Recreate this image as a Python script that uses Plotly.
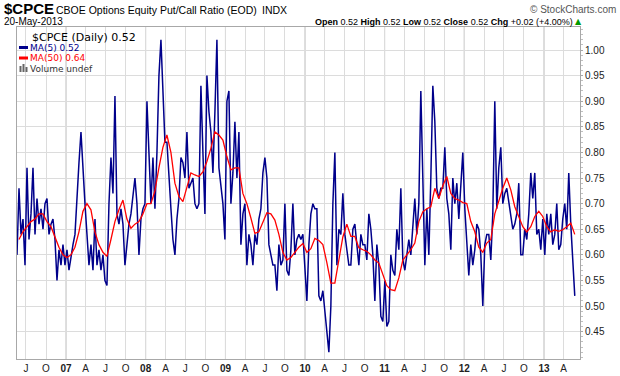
import pandas as pd
import plotly.graph_objects as go

# ---------------- data ----------------
MA5_START, MA5_END = "2006-05-21", "2013-05-22"
MA50_START, MA50_END = "2006-05-30", "2013-05-22"

ma5_values = [
    0.60, 0.73, 0.64, 0.67, 0.58, 0.77, 0.63, 0.68, 0.77, 0.64, 0.71, 0.66, 0.69, 0.65, 0.70, 0.71, 0.64, 0.66, 0.67,
    0.63, 0.55, 0.61, 0.58, 0.62, 0.58, 0.61, 0.57, 0.60, 0.62, 0.64, 0.72, 0.78, 0.84, 0.76, 0.70, 0.64, 0.58,
    0.62, 0.57, 0.67, 0.58, 0.61, 0.57, 0.60, 0.55, 0.54, 0.70, 0.79, 0.72, 0.91, 0.68, 0.66, 0.69, 0.66, 0.58, 0.62,
    0.66, 0.68, 0.71, 0.75, 0.70, 0.60, 0.67, 0.69, 0.70, 0.90, 0.80, 0.70, 0.79, 0.69, 0.80, 0.95, 1.02, 0.90,
    0.82, 0.82, 0.74, 0.69, 0.63, 0.60, 0.67, 0.71, 0.79, 0.78, 0.75, 0.84, 0.73, 0.74, 0.75, 0.70, 0.69, 0.70, 0.93,
    0.80, 0.68, 0.95, 0.88, 0.84, 0.76, 0.88, 1.02, 0.77, 0.73, 0.70, 0.63, 0.90, 0.92, 0.70, 0.76, 0.86, 0.75, 0.84,
    0.62, 0.68, 0.70, 0.58, 0.64, 0.62, 0.58, 0.64, 0.62, 0.67, 0.69, 0.76, 0.79, 0.75, 0.62, 0.60, 0.58, 0.58, 0.53,
    0.62, 0.58, 0.59, 0.70, 0.57, 0.56, 0.61, 0.70, 0.60, 0.63, 0.64, 0.63, 0.64, 0.58, 0.51, 0.62, 0.68, 0.70,
    0.69, 0.69, 0.52, 0.51, 0.53, 0.49, 0.45, 0.41, 0.50, 0.70, 0.80, 0.58, 0.65, 0.64, 0.72, 0.64, 0.61, 0.58, 0.58,
    0.65, 0.66, 0.62, 0.58, 0.64, 0.62, 0.62, 0.59, 0.68, 0.65, 0.60, 0.51, 0.62, 0.58, 0.48, 0.47, 0.55, 0.46, 0.47,
    0.60, 0.57, 0.56, 0.65, 0.61, 0.73, 0.59, 0.57, 0.60, 0.63, 0.60, 0.66, 0.71, 0.64, 0.70, 0.92, 0.77, 0.58, 0.69,
    0.60, 0.75, 0.93, 0.86, 0.73, 0.71, 0.73, 0.73, 0.81, 0.71, 0.68, 0.61, 0.75, 0.70, 0.74, 0.67, 0.74, 0.80,
    0.69, 0.63, 0.56, 0.62, 0.58, 0.61, 0.66, 0.65, 0.60, 0.50, 0.62, 0.64, 0.64, 0.59, 0.68, 0.90, 0.69, 0.77, 0.81,
    0.70, 0.72, 0.73, 0.70, 0.67, 0.65, 0.66, 0.68, 0.74, 0.60, 0.60, 0.65, 0.63, 0.68,
    0.76, 0.71, 0.76, 0.64, 0.65, 0.61, 0.67, 0.60, 0.68, 0.64, 0.68, 0.62, 0.64, 0.70, 0.61, 0.62, 0.67, 0.70, 0.65,
    0.76, 0.66, 0.60, 0.52,
]

ma50_values = [
    0.630, 0.645, 0.655, 0.665, 0.670, 0.680, 0.680, 0.665, 0.655, 0.635, 0.615, 0.600, 0.595, 0.600, 0.615, 0.645,
    0.685, 0.700,
    0.688, 0.645, 0.620, 0.605, 0.597, 0.630, 0.665, 0.688, 0.707, 0.670, 0.652, 0.660, 0.665, 0.680, 0.700, 0.700,
    0.725, 0.770, 0.810,
    0.834, 0.800, 0.740, 0.714, 0.704, 0.733, 0.760, 0.756, 0.753, 0.762, 0.782, 0.808, 0.840, 0.834, 0.824, 0.792,
    0.766, 0.770, 0.770,
    0.720, 0.700, 0.672, 0.642, 0.645, 0.665, 0.682, 0.680, 0.668, 0.640, 0.605, 0.590, 0.595, 0.605, 0.615, 0.622,
    0.605, 0.612,
    0.632, 0.628, 0.620, 0.585, 0.545, 0.545, 0.590, 0.635, 0.660, 0.636, 0.636, 0.614, 0.610, 0.607, 0.600, 0.590,
    0.584, 0.560, 0.540,
    0.532, 0.530, 0.555, 0.590, 0.600, 0.610, 0.623, 0.665, 0.684, 0.690, 0.694, 0.730, 0.710, 0.735, 0.753, 0.720,
    0.710, 0.707, 0.702,
    0.700, 0.665, 0.645, 0.615, 0.605, 0.623, 0.630, 0.680, 0.706, 0.730, 0.750, 0.727, 0.694, 0.675, 0.655, 0.645,
    0.655, 0.675, 0.685, 0.675, 0.655, 0.645, 0.649, 0.646, 0.649, 0.655, 0.662, 0.640,
]

x_tick_labels = ["J", "O", "<b>07</b>", "A", "J", "O", "<b>08</b>", "A", "J", "O", "<b>09</b>", "A", "J", "O",
                 "<b>10</b>", "A", "J", "O", "<b>11</b>", "A", "J", "O", "<b>12</b>", "A", "J", "O", "<b>13</b>", "A"]
y_tick_values = [0.45, 0.50, 0.55, 0.60, 0.65, 0.70, 0.75, 0.80, 0.85, 0.90, 0.95, 1.00]
y_tick_labels = ["0.45", "0.50", "0.55", "0.60", "0.65", "0.70", "0.75", "0.80", "0.85", "0.90", "0.95", "1.00"]
year_starts = ["2007-01-01", "2008-01-01", "2009-01-01", "2010-01-01", "2011-01-01", "2012-01-01", "2013-01-01"]

ma5_dates = pd.date_range(MA5_START, MA5_END, periods=len(ma5_values))
ma50_dates = pd.date_range(MA50_START, MA50_END, periods=len(ma50_values))
quarter_ticks = pd.date_range("2006-07-01", "2013-04-01", freq="QS-JAN")

# ---------------- layout geometry ----------------
W, H = 620, 376
L, R, T, B = 17, 580, 27, 359
BLUE, RED = "#00008B", "#FF0000"
SANS = "Liberation Sans, Arial, sans-serif"
VERD = "DejaVu Sans, Verdana, sans-serif"


def px(x):
    return (x - L) / (R - L)


def py(y):
    return (B - y) / (B - T)


fig = go.Figure()
fig.add_trace(go.Scatter(x=ma5_dates, y=ma5_values, mode="lines", name="MA(5)",
                         line=dict(color=BLUE, width=1.5), showlegend=False, hoverinfo="skip"))
fig.add_trace(go.Scatter(x=ma50_dates, y=ma50_values, mode="lines", name="MA(50)",
                         line=dict(color=RED, width=1.3), showlegend=False, hoverinfo="skip"))

for d in year_starts:
    fig.add_shape(type="line", xref="x", yref="paper", x0=d, x1=d, y0=0, y1=1,
                  line=dict(color="#b8b8b8", width=1), layer="between")

# legend swatches
fig.add_shape(type="line", xref="paper", yref="paper", x0=px(19), x1=px(28), y0=py(47.5), y1=py(47.5),
              line=dict(color=BLUE, width=3))
fig.add_shape(type="line", xref="paper", yref="paper", x0=px(19), x1=px(28), y0=py(58), y1=py(58),
              line=dict(color=RED, width=3))
for x0, top in [(19.5, 66), (22.5, 64), (25.5, 67)]:
    fig.add_shape(type="rect", xref="paper", yref="paper", x0=px(x0), x1=px(x0 + 2), y0=py(72), y1=py(top),
                  line=dict(width=0), fillcolor="#666666")

ann = []


def text(x, y, s, size, family=SANS, color="#000", anchor="left"):
    ann.append(dict(x=px(x), y=py(y), xref="paper", yref="paper", text=s, showarrow=False, borderpad=0,
                    xanchor=anchor, yanchor="middle", font=dict(size=size, family=family, color=color)))


text(3, 8.5, "<b>$CPCE</b>", 15)
text(55, 9.5, "CBOE Options Equity Put/Call Ratio (EOD)", 10.5)
text(261, 9.5, "INDX", 10.5)
text(617, 9.5, "© StockCharts.com", 10, color="#555", anchor="right")
text(3, 21.5, "20-May-2013", 10)
text(574, 21.5, "<b>Open</b> 0.52 <b>High</b> 0.52 <b>Low</b> 0.52 <b>Close</b> 0.52 "
                "<b>Chg</b> +0.02 (+4.00%)", 9, anchor="right")
text(583, 21.5, "▲", 8, family=VERD, color="#009900", anchor="right")
text(31, 37.3, "$CPCE (Daily) 0.52", 11, family=VERD)
text(29, 47.7, "MA(5) 0.52", 9, family=VERD, color=BLUE)
text(29, 58.3, "MA(50) 0.64", 9, family=VERD, color=RED)
text(29, 68.5, "Volume undef", 9, family=VERD, color="#333")

fig.update_layout(
    width=W, height=H,
    margin=dict(l=L, r=W - R, t=T, b=H - B, pad=0, autoexpand=False),
    paper_bgcolor="white", plot_bgcolor="white",
    showlegend=False,
    annotations=ann,
    xaxis=dict(type="date", range=["2006-05-21", "2013-06-15"], automargin=False,
               tickvals=quarter_ticks, ticktext=x_tick_labels,
               showgrid=True, gridcolor="#dcdcdc", gridwidth=1, zeroline=False,
               showline=True, linecolor="#a8a8a8", linewidth=1, mirror=True, ticks="",
               tickfont=dict(size=10, family=SANS, color="#222")),
    yaxis=dict(side="right", range=[0.3967, 1.0449], automargin=False,
               tickvals=y_tick_values, ticktext=y_tick_labels,
               showgrid=True, gridcolor="#dcdcdc", gridwidth=1, zeroline=False,
               showline=True, linecolor="#a8a8a8", linewidth=1, mirror=True,
               ticks="outside", ticklen=2, tickcolor="#a8a8a8",
               minor=dict(tick0=0, dtick=0.01, ticks="outside", ticklen=2, tickcolor="#c0c0c0", showgrid=False),
               tickfont=dict(size=10, family=SANS, color="#222")),
)

fig.write_html("out.html", config={"displayModeBar": False, "staticPlot": True},
               post_script="document.body.style.margin='0';document.body.style.padding='0';")
